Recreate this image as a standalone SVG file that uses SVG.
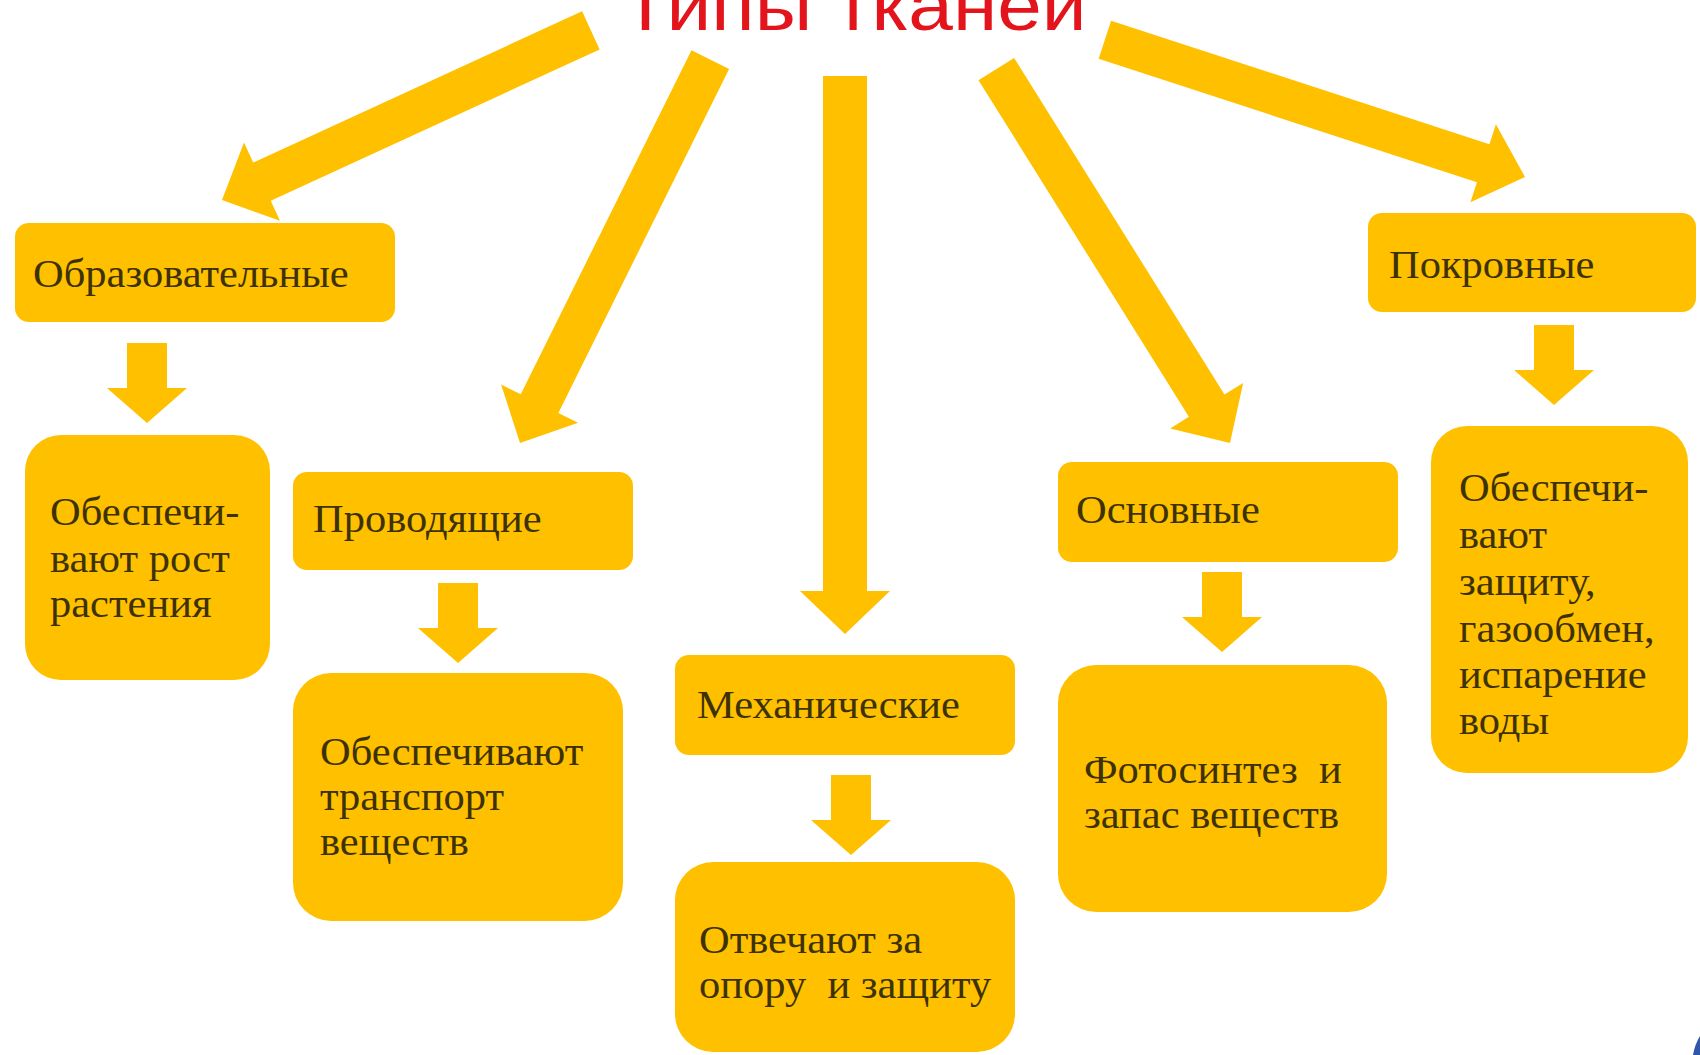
<svg xmlns="http://www.w3.org/2000/svg" width="1700" height="1055" viewBox="0 0 1700 1055">
<style>
.box{fill:#FFC000}
.arr{fill:#FFC000}
.t{font-family:"Liberation Serif","Times New Roman",serif;font-size:39px;fill:#3d3204}
.title{font-family:"Liberation Sans",Arial,sans-serif;font-size:71px;fill:#e3141b}
</style>
<defs>
<path id="sa" d="M-20,0 H20 V45 H40 L0,80 L-40,45 H-20 Z"/>
</defs>
<rect width="1700" height="1055" fill="#ffffff"/>
<g id="title"><text class="title" transform="translate(621 30) scale(1.13 1)">Типы тканей</text></g>
<g id="connectors">
<polygon class="arr" transform="translate(222 200) rotate(155.3)" points="-406,-21 -44,-21 -44,-43 0,0 -44,43 -44,21 -406,21"/>
<polygon class="arr" transform="translate(520 443) rotate(116.4)" points="-428,-21 -44,-21 -44,-43 0,0 -44,43 -44,21 -428,21"/>
<polygon class="arr" transform="translate(845 634) rotate(90)" points="-558,-22 -43,-22 -43,-45 0,0 -43,45 -43,22 -558,22"/>
<polygon class="arr" transform="translate(1230 443) rotate(58)" points="-441,-21 -44,-21 -44,-43 0,0 -44,43 -44,21 -441,21"/>
<polygon class="arr" transform="translate(1525 177) rotate(18.1)" points="-442,-20 -44,-20 -44,-41 0,0 -44,41 -44,20 -442,20"/>
<use href="#sa" class="arr" x="147" y="343"/>
<use href="#sa" class="arr" x="458" y="583"/>
<use href="#sa" class="arr" x="851" y="775"/>
<use href="#sa" class="arr" x="1222" y="572"/>
<use href="#sa" class="arr" x="1554" y="325"/>
</g>
<g id="n-obraz"><rect class="box" x="15" y="223" width="380" height="99" rx="14"/><text class="t" transform="translate(33 287) scale(1.09 1)">Образовательные</text></g>
<g id="n-obraz-f"><rect class="box" x="25" y="435" width="245" height="245" rx="36"/><text class="t" transform="translate(50 525) scale(1.09 1)"><tspan x="0" y="0">Обеспечи-</tspan><tspan x="0" y="47">вают рост</tspan><tspan x="0" y="92">растения</tspan></text></g>
<g id="n-prov"><rect class="box" x="293" y="472" width="340" height="98" rx="14"/><text class="t" transform="translate(313 532) scale(1.09 1)">Проводящие</text></g>
<g id="n-prov-f"><rect class="box" x="293" y="673" width="330" height="248" rx="38"/><text class="t" transform="translate(320 765) scale(1.09 1)"><tspan x="0" y="0">Обеспечивают</tspan><tspan x="0" y="45">транспорт</tspan><tspan x="0" y="90">веществ</tspan></text></g>
<g id="n-mech"><rect class="box" x="675" y="655" width="340" height="100" rx="14"/><text class="t" transform="translate(697 718) scale(1.09 1)">Механические</text></g>
<g id="n-mech-f"><rect class="box" x="675" y="862" width="340" height="190" rx="38"/><text class="t" transform="translate(699 953) scale(1.09 1)"><tspan x="0" y="0">Отвечают за</tspan><tspan x="0" y="45" xml:space="preserve">опору  и защиту</tspan></text></g>
<g id="n-osn"><rect class="box" x="1058" y="462" width="340" height="100" rx="14"/><text class="t" transform="translate(1076 523) scale(1.09 1)">Основные</text></g>
<g id="n-osn-f"><rect class="box" x="1058" y="665" width="329" height="247" rx="38"/><text class="t" transform="translate(1084 783) scale(1.09 1)"><tspan x="0" y="0" xml:space="preserve">Фотосинтез  и</tspan><tspan x="0" y="45">запас веществ</tspan></text></g>
<g id="n-pokr"><rect class="box" x="1368" y="213" width="328" height="99" rx="14"/><text class="t" transform="translate(1389 278) scale(1.09 1)">Покровные</text></g>
<g id="n-pokr-f"><rect class="box" x="1431" y="426" width="257" height="347" rx="36"/><text class="t" transform="translate(1459 501) scale(1.09 1)"><tspan x="0" y="0">Обеспечи-</tspan><tspan x="0" y="47">вают</tspan><tspan x="0" y="94">защиту,</tspan><tspan x="0" y="141">газообмен,</tspan><tspan x="0" y="187">испарение</tspan><tspan x="0" y="233">воды</tspan></text></g>
<path d="M1700,1036 L1700,1055 L1693,1055 Q1695,1044 1700,1036 Z" fill="#2f56a8"/>
</svg>
